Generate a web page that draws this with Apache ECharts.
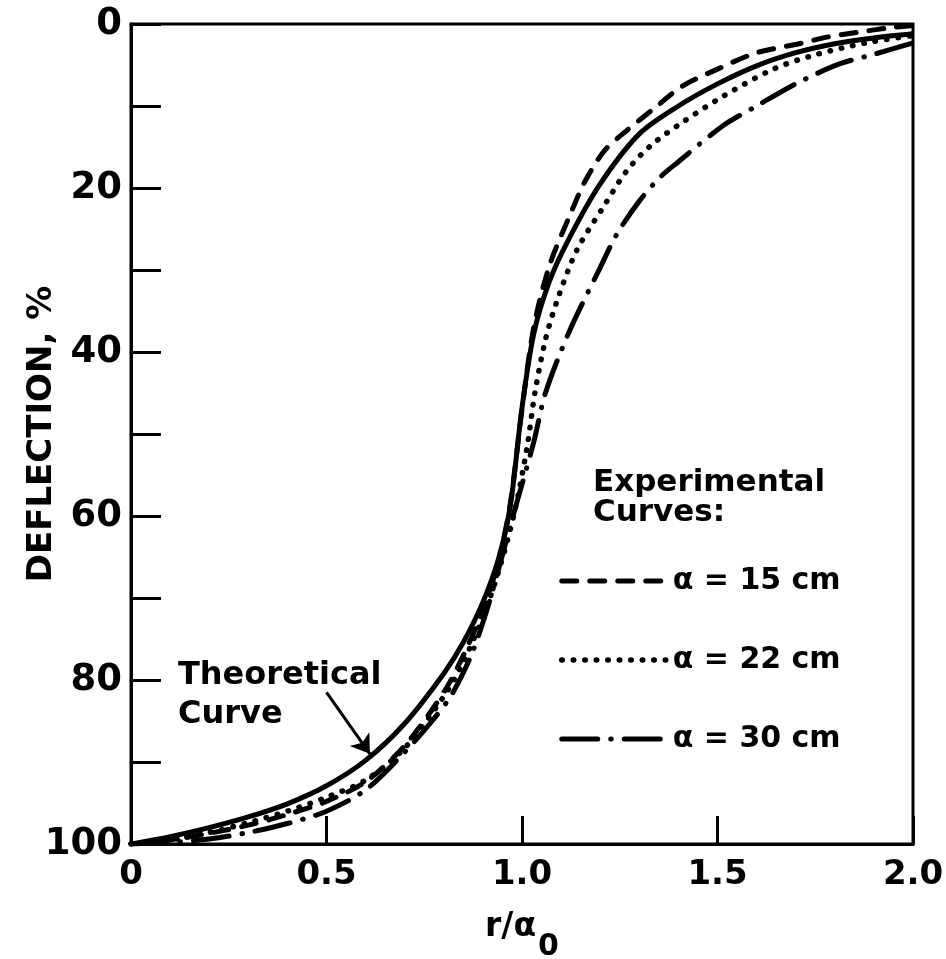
<!DOCTYPE html>
<html><head><meta charset="utf-8">
<script src="https://cdn.jsdelivr.net/npm/echarts@6/dist/echarts.min.js"></script>
<style>html,body{margin:0;padding:0;background:#fff}#c{width:946px;height:959px}</style>
</head><body><div id="c"></div>
<script>
// ---- data ----
const xTickLabels = ['0', '0.5', '1.0', '1.5', '2.0'];
const yTickLabels = ['0', '20', '40', '60', '80', '100'];

const theoX = [0, 0.1, 0.2, 0.3, 0.4, 0.5, 0.6, 0.7, 0.8, 0.85, 0.9, 0.94, 0.97, 1.0, 1.03, 1.07, 1.12, 1.2, 1.3, 1.4, 1.5, 1.6, 1.7, 1.8, 1.9, 2.0];
const theoY = [100, 99.1, 98.0, 96.7, 95.1, 92.9, 89.8, 85.3, 79.2, 75.4, 70.5, 65.2, 58.8, 46.8, 37.8, 31.4, 26.2, 19.5, 13.4, 10.0, 7.3, 5.1, 3.5, 2.4, 1.7, 1.2];

const a15X = [0, 0.1, 0.2, 0.3, 0.4, 0.5, 0.6, 0.7, 0.8, 0.85, 0.9, 0.94, 0.97, 1.0, 1.03, 1.07, 1.12, 1.16, 1.21, 1.27, 1.33, 1.41, 1.5, 1.6, 1.7, 1.78, 1.86, 1.95, 2.0];
const a15Y = [100, 99.5, 98.7, 97.7, 96.4, 94.8, 92.4, 88.0, 81.5, 77.0, 71.5, 65.5, 58.5, 47.0, 37.0, 29.5, 23.6, 19.3, 15.5, 12.9, 10.6, 7.6, 5.5, 3.5, 2.5, 1.6, 1.0, 0.4, 0.2];

const a22X = [0, 0.1, 0.2, 0.3, 0.4, 0.5, 0.6, 0.7, 0.8, 0.85, 0.9, 0.94, 0.98, 1.013, 1.033, 1.06, 1.09, 1.14, 1.207, 1.268, 1.33, 1.41, 1.515, 1.643, 1.754, 1.88, 2.0];
const a22Y = [100, 99.5, 98.6, 97.4, 96.0, 94.3, 92.2, 88.3, 82.0, 77.8, 72.3, 66.8, 59.7, 51.6, 45.0, 38.5, 33.7, 27.6, 22.4, 17.9, 14.8, 12.0, 8.8, 5.5, 3.7, 2.3, 1.4];

const a30X = [0, 0.1, 0.2, 0.3, 0.4, 0.5, 0.6, 0.7, 0.77, 0.82, 0.87, 0.91, 0.94, 0.98, 1.03, 1.06, 1.12, 1.2, 1.243, 1.3, 1.353, 1.4, 1.514, 1.6, 1.7, 1.81, 1.9, 2.0];
const a30Y = [100, 99.8, 99.4, 98.6, 97.5, 96.0, 93.4, 88.8, 85.0, 81.8, 77.0, 71.5, 66.5, 59.5, 51.0, 45.0, 37.6, 29.7, 25.6, 21.6, 18.7, 16.8, 12.4, 10.0, 7.3, 4.9, 3.7, 2.3];

const seriesNames = ['Theoretical Curve', 'α = 15 cm', 'α = 22 cm', 'α = 30 cm'];
const arrowX = [0.50, 0.611];
const arrowY = [81.5, 89.0];

// ---- chart ----
const FONT = 'DejaVu Sans';
const zip = (xs, ys) => xs.map((x, i) => [x, ys[i]]);
const chart = echarts.init(document.getElementById('c'), null, {renderer: 'canvas'});

const dash15 = [15, 13];
const dot22 = [0.5, 11];
const dashDot30 = [36, 13, 0.5, 13];

const option = {
  animation: false,
  backgroundColor: '#fff',
  grid: {left: 131, right: 33, top: 24, bottom: 115, show: true, borderColor: '#000', borderWidth: 3,
    backgroundColor: 'transparent', outerBoundsMode: 'none', containLabel: false},
  xAxis: {
    type: 'value', min: 0, max: 2, interval: 0.5,
    axisLine: {show: true, onZero: false, lineStyle: {color: '#000', width: 3}},
    axisTick: {show: true, inside: true, length: 28, lineStyle: {color: '#000', width: 3}},
    axisLabel: {color: '#000', fontFamily: FONT, fontWeight: 'bold', fontSize: 34, margin: 14,
      formatter: (v) => xTickLabels[Math.round(v / 0.5)]},
    splitLine: {show: false},
    name: '{a|r/α}{s|0}', nameLocation: 'middle', nameGap: 48, nameMoveOverlap: false,
    nameTextStyle: {
      color: '#000',
      rich: {
        a: {fontFamily: FONT, fontWeight: 'bold', fontSize: 33, color: '#000'},
        s: {fontFamily: FONT, fontWeight: 'bold', fontSize: 30, color: '#000', padding: [40, 0, 0, 2]}
      }
    }
  },
  yAxis: {
    type: 'value', inverse: true, min: 0, max: 100, interval: 20,
    axisLine: {show: true, onZero: false, lineStyle: {color: '#000', width: 3}},
    axisTick: {show: true, inside: true, length: 30, lineStyle: {color: '#000', width: 3}},
    minorTick: {show: true, splitNumber: 2, length: 30, lineStyle: {color: '#000', width: 3}},
    axisLabel: {color: '#000', fontFamily: FONT, fontWeight: 'bold', fontSize: 37, margin: 9,
      formatter: (v) => yTickLabels[Math.round(v / 20)]},
    splitLine: {show: false},
    name: 'DEFLECTION, %', nameLocation: 'middle', nameGap: 72, nameRotate: 90, nameMoveOverlap: false,
    nameTextStyle: {color: '#000', fontFamily: FONT, fontWeight: 'bold', fontSize: 34}
  },
  legend: {
    data: [
      {name: seriesNames[1], itemStyle: {opacity: 0}, lineStyle: {color: '#000', width: 5, type: dash15, cap: 'round'}},
      {name: seriesNames[2], itemStyle: {opacity: 0}, lineStyle: {color: '#000', width: 5.5, type: dot22, cap: 'round'}},
      {name: seriesNames[3], itemStyle: {opacity: 0}, lineStyle: {color: '#000', width: 5, type: dashDot30, cap: 'round'}}
    ],
    orient: 'vertical', left: 554, top: 556,
    itemWidth: 104, itemHeight: 20, itemGap: 39,
    itemStyle: {opacity: 0},
    textStyle: {color: '#000', fontFamily: FONT, fontWeight: 'bold', fontSize: 30, lineHeight: 40, padding: [0, 0, 0, 2]},
    selectedMode: false
  },
  graphic: [
    {type: 'text', left: 593, top: 467, style: {text: 'Experimental\nCurves:', fill: '#000', font: 'bold 31px "DejaVu Sans"', lineHeight: 30}},
    {type: 'text', left: 178, top: 656, style: {text: 'Theoretical\nCurve', fill: '#000', font: 'bold 32px "DejaVu Sans"', lineHeight: 39}}
  ],
  series: [
    {name: seriesNames[0], type: 'line', data: zip(theoX, theoY), smooth: 0.3, symbol: 'none',
      lineStyle: {color: '#000', width: 5}, z: 5,
      markLine: {silent: true, symbol: ['none', 'arrow'], symbolSize: 18,
        lineStyle: {color: '#000', width: 3, type: 'solid'}, label: {show: false},
        data: [[{coord: [arrowX[0], arrowY[0]]}, {coord: [arrowX[1], arrowY[1]]}]]}},
    {name: seriesNames[1], type: 'line', data: zip(a15X, a15Y), smooth: 0.3, symbol: 'none',
      lineStyle: {color: '#000', width: 5, type: dash15, cap: 'round'}},
    {name: seriesNames[2], type: 'line', data: zip(a22X, a22Y), smooth: 0.3, symbol: 'none',
      lineStyle: {color: '#000', width: 5.5, type: dot22, cap: 'round'}},
    {name: seriesNames[3], type: 'line', data: zip(a30X, a30Y), smooth: 0.3, symbol: 'none',
      lineStyle: {color: '#000', width: 5, type: dashDot30, cap: 'round'}}
  ]
};
chart.setOption(option);
</script>
</body></html>
